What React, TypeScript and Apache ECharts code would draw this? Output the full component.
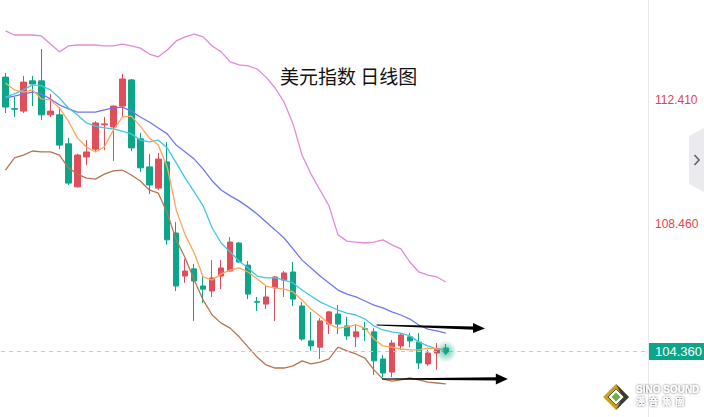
import React, { useEffect, useRef } from "react";
import * as echarts from "echarts";

// ---- data ----
const SLOT_COUNT = 72; // 50 trading days + empty future area
const slots = Array.from({ length: SLOT_COUNT }, (_, i) => String(i + 1));

const open = [113.16,112.15,112.07,113.04,113.04,111.95,111.95,111.02,109.64,110.60,110.85,111.63,111.56,112.23,113.07,111.18,110.28,109.60,110.44,108.16,106.78,107.01,106.46,106.30,106.78,106.94,107.84,107.13,105.96,105.88,106.40,106.65,106.91,105.82,104.70,104.50,105.24,105.56,105.18,104.83,105.09,104.99,104.12,103.70,104.54,104.83,104.66,103.96,104.31,104.47];
const close = [112.20,112.13,113.00,112.94,111.95,112.07,110.98,109.76,110.66,110.76,111.69,111.66,112.23,113.10,110.89,110.25,109.70,110.53,107.94,106.46,106.94,106.62,106.36,106.72,107.04,107.87,107.23,106.20,105.94,106.11,106.75,106.88,106.04,104.76,104.54,105.34,105.63,105.24,104.86,104.99,105.07,104.06,103.67,104.63,104.89,104.70,103.99,104.31,104.44,104.36];
const low = [112.01,111.88,112.01,112.23,111.78,111.88,110.85,109.70,109.62,110.34,110.79,110.82,110.47,111.88,110.79,110.12,109.41,109.54,107.78,106.30,106.56,105.34,105.92,106.11,106.36,106.92,107.20,106.04,105.66,105.72,105.34,106.11,105.82,104.70,104.38,104.12,104.92,104.92,104.73,104.50,104.70,103.61,103.54,103.54,104.41,104.50,103.80,103.90,103.77,104.25];
const high = [113.29,112.52,113.20,113.20,114.06,112.62,112.20,111.21,110.70,111.14,111.75,111.88,112.25,113.26,113.10,111.37,110.69,110.73,111.08,108.51,107.33,107.17,106.81,107.29,107.29,108.03,107.87,107.26,106.11,106.46,106.78,106.94,107.23,105.95,105.63,105.43,105.66,105.85,105.47,105.24,105.31,105.11,104.25,104.73,104.95,104.95,104.95,104.41,104.63,104.60];

const maFast = [112.97,112.75,112.68,112.75,112.46,112.43,112.17,111.75,111.21,110.92,110.76,110.92,111.46,111.88,111.91,111.59,111.21,110.98,110.28,108.90,108.10,107.52,106.75,106.65,106.85,106.97,107.04,106.91,106.69,106.46,106.40,106.36,106.27,106.01,105.72,105.50,105.24,105.11,105.15,105.21,105.11,104.76,104.54,104.50,104.44,104.41,104.41,104.47,104.44,104.41];
const maMid = [112.52,112.62,112.75,112.91,112.88,112.75,112.49,112.17,111.95,111.69,111.59,111.53,111.50,111.43,111.34,111.14,111.08,111.14,110.89,110.41,109.92,109.48,109.03,108.32,107.84,107.55,107.26,107.04,106.78,106.72,106.72,106.65,106.56,106.33,106.14,105.95,105.82,105.69,105.59,105.53,105.40,105.18,105.05,104.99,104.95,104.86,104.66,104.54,104.44,104.41];
const maSlow = [112.49,112.55,112.62,112.68,112.62,112.46,112.27,112.14,112.04,112.04,112.04,112.11,112.17,112.20,112.07,111.88,111.72,111.53,111.34,110.98,110.76,110.53,110.21,109.83,109.54,109.35,109.19,108.99,108.77,108.51,108.26,108.00,107.65,107.29,107.04,106.78,106.56,106.33,106.20,106.11,105.98,105.85,105.76,105.63,105.53,105.40,105.21,105.08,105.02,104.95];
const bandUpper = [114.64,114.51,114.51,114.51,114.48,114.22,113.97,114.16,114.19,114.19,114.19,114.16,114.16,114.22,114.16,114.09,113.90,113.81,114.03,114.32,114.45,114.54,114.45,114.16,113.97,113.65,113.55,113.52,113.42,113.16,112.81,112.36,111.66,110.66,110.05,109.54,109.03,108.10,107.90,107.87,107.84,107.87,107.94,107.78,107.65,107.23,106.91,106.81,106.75,106.59];
const bandLower = [110.18,110.57,110.66,110.79,110.76,110.76,110.66,110.25,110.05,109.92,109.89,110.05,110.15,110.18,110.02,109.83,109.54,109.44,108.80,107.94,107.36,106.65,106.01,105.53,105.27,105.11,104.83,104.50,104.18,103.93,103.83,103.83,103.90,104.06,103.96,104.02,104.12,104.50,104.38,104.28,104.15,103.77,103.48,103.41,103.45,103.51,103.45,103.38,103.35,103.32];

const yTickLabels = [108.46, 112.41];
const lastPrice = 104.36;
const titleText = "美元指数 日线图";

// annotation arrows, in data space [slot index, price]
const arrowUpper = { from: [41.3, 105.21], to: [53.36, 105.1] };
const arrowLower = { from: [41.9, 103.48], to: [55.9, 103.48] };

// ---- layout ----
const GRID = { left: 1, top: 0, width: 647, height: 417 };
const Y_MIN = 102.259;
const Y_MAX = 115.633;
const px = (i: number) => GRID.left + ((i + 0.5) * GRID.width) / SLOT_COUNT;
const py = (v: number) => GRID.top + ((Y_MAX - v) / (Y_MAX - Y_MIN)) * GRID.height;

const RED = "#e04d5b";
const GREEN = "#0ca588";

function arrowShapes(a: { from: number[]; to: number[] }, headLen: number, headHalf: number) {
  const x0 = px(a.from[0]);
  const y0 = py(a.from[1]);
  const x1 = px(a.to[0]);
  const y1 = py(a.to[1]);
  const xb = x1 - headLen;
  const yb = y0 + ((y1 - y0) * (xb - x0)) / (x1 - x0);
  return [
    {
      type: "polygon",
      shape: { points: [[x0, y0 - 0.5], [xb, yb - 1.6], [xb, yb + 1.6], [x0, y0 + 0.6]] },
      style: { fill: "#000" },
      z: 100,
    },
    {
      type: "polygon",
      shape: { points: [[xb - 1, yb - headHalf], [x1, y1], [xb - 1, yb + headHalf]] },
      style: { fill: "#000" },
      z: 100,
    },
  ];
}

export default function App() {
  const ref = useRef<HTMLDivElement>(null);
  useEffect(() => {
    if (!ref.current) return;
    const chart = echarts.init(ref.current, null, { renderer: "svg" });
    const candleData = open.map((o, i) => [o, close[i], low[i], high[i]]);
    const lineSeries = (data: number[], color: string) => ({
      type: "line",
      data,
      symbol: "none",
      showSymbol: false,
      smooth: false,
      lineStyle: { color, width: 1.3 },
      z: 3,
      silent: true,
    });
    const last = close.length - 1;
    const option: any = {
      animation: false,
      backgroundColor: "#ffffff",
      grid: { ...GRID, containLabel: false },
      xAxis: { type: "category", data: slots, boundaryGap: true, show: false },
      yAxis: {
        type: "value",
        position: "right",
        min: Y_MIN,
        max: Y_MAX,
        axisLine: { show: true, lineStyle: { color: "#e6e7ef", width: 1 } },
        axisTick: { show: false },
        splitLine: { show: false },
        axisLabel: {
          customValues: yTickLabels,
          formatter: (v: number) => v.toFixed(3),
          color: "#e2424f",
          fontSize: 12,
          fontFamily: "Liberation Sans",
          margin: 7,
        },
      },
      series: [
        {
          type: "candlestick",
          data: candleData,
          barWidth: 6,
          itemStyle: {
            color: RED,
            color0: GREEN,
            borderColor: RED,
            borderColor0: GREEN,
            borderWidth: 1,
          },
          z: 2,
          markLine: {
            silent: true,
            symbol: ["none", "none"],
            lineStyle: { color: "#a9dccd", type: [4, 4], width: 1 },
            label: {
              show: true,
              position: "end",
              distance: 1,
              formatter: lastPrice.toFixed(3),
              color: "#fff",
              backgroundColor: GREEN,
              padding: [2, 6, 2, 6],
              fontSize: 13,
              fontFamily: "Liberation Sans",
            },
            data: [{ yAxis: lastPrice }],
          },
        },
        lineSeries(bandUpper, "#e38ad6"),
        lineSeries(maSlow, "#6f77ee"),
        lineSeries(maMid, "#44c6e0"),
        lineSeries(maFast, "#ffa65a"),
        lineSeries(bandLower, "#b57552"),
        {
          type: "scatter",
          data: [[last, close[last]]],
          symbolSize: 22,
          silent: true,
          z: 6,
          itemStyle: {
            color: new echarts.graphic.RadialGradient(0.5, 0.5, 0.5, [
              { offset: 0, color: "rgba(16,168,134,0.85)" },
              { offset: 0.45, color: "rgba(16,168,134,0.45)" },
              { offset: 1, color: "rgba(16,168,134,0)" },
            ]),
          },
        },
        {
          type: "scatter",
          data: [[last, close[last]]],
          symbolSize: 5,
          silent: true,
          z: 7,
          itemStyle: { color: "#0aa585" },
        },
      ],
      graphic: [
        {
          type: "text",
          x: 280,
          y: 75,
          style: {
            text: titleText,
            fill: "#111",
            fontSize: 19,
            fontFamily: "Noto Sans CJK SC",
            verticalAlign: "middle",
            align: "left",
          },
          z: 100,
        },
        ...arrowShapes(arrowUpper, 11, 5),
        ...arrowShapes(arrowLower, 11, 5.5),
        {
          type: "polygon",
          shape: { points: [[689, 136], [704, 128], [704, 192], [689, 184]] },
          style: { fill: "#ebebef" },
          z: 100,
        },
        {
          type: "polyline",
          shape: { points: [[694.5, 155], [699, 160], [694.5, 165]] },
          style: { stroke: "#5d6172", lineWidth: 1.6, fill: "none" },
          z: 101,
        },
        // logo
        {
          type: "polygon",
          shape: { points: [[616, 384], [629, 397], [616, 410], [603, 397]] },
          style: { fill: "#c9a31c" },
          z: 100,
        },
        {
          type: "polygon",
          shape: { points: [[616, 384], [629, 397], [616, 410], [622.5, 397]] },
          style: { fill: "#3b3b3b" },
          z: 100,
        },
        {
          type: "polygon",
          shape: { points: [[616, 389], [624, 397], [616, 405], [608, 397]] },
          style: { fill: "#ffffff", stroke: "#555", lineWidth: 1 },
          z: 101,
        },
        {
          type: "polygon",
          shape: { points: [[616, 392.5], [620.5, 397], [616, 401.5], [611.5, 397]] },
          style: { fill: "#6fae4a" },
          z: 102,
        },
        {
          type: "text",
          x: 636,
          y: 389,
          style: {
            text: "SiNO SOUND",
            fill: "#ffffff",
            fontSize: 10,
            fontWeight: "bold",
            fontFamily: "Liberation Sans",
            verticalAlign: "middle",
            textShadowColor: "rgba(0,0,0,0.75)",
            textShadowBlur: 2,
          },
          z: 102,
        },
        {
          type: "text",
          x: 636,
          y: 401,
          style: {
            text: "漢  音  集  團",
            fill: "#ffffff",
            fontSize: 9,
            fontWeight: "bold",
            fontFamily: "Noto Sans CJK TC",
            verticalAlign: "middle",
            textShadowColor: "rgba(0,0,0,0.75)",
            textShadowBlur: 2,
          },
          z: 102,
        },
      ],
    };
    chart.setOption(option);
    return () => chart.dispose();
  }, []);
  return (
    <div
      ref={ref}
      style={{ position: "absolute", left: 0, top: 0, width: 704, height: 417, background: "#fff" }}
    />
  );
}
